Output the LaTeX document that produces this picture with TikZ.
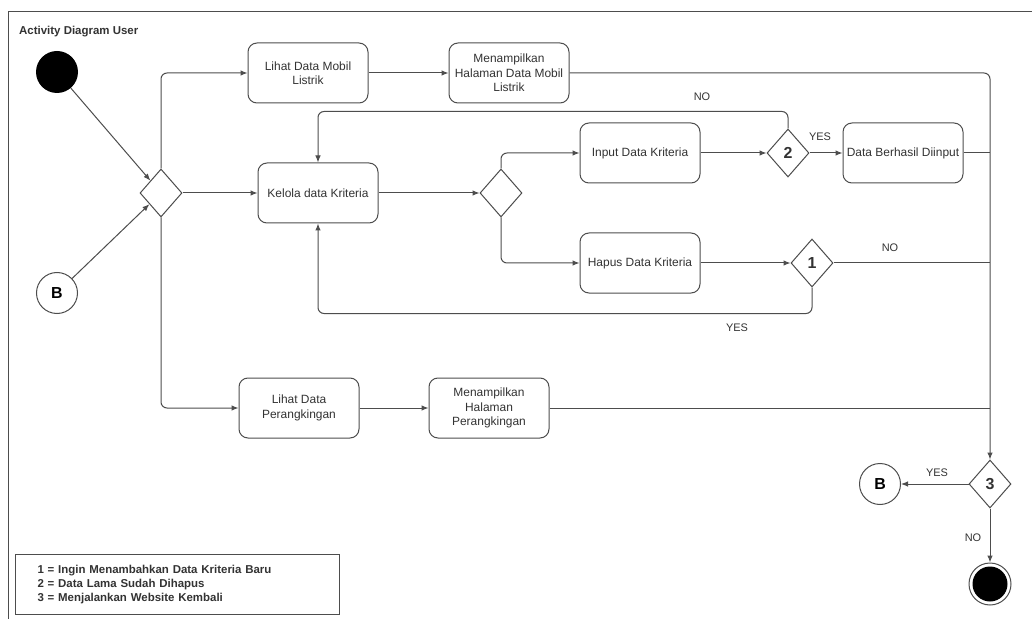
\documentclass[tikz,border=0pt]{standalone}
\usepackage{fontspec}
\setmainfont{Liberation Sans}
\usetikzlibrary{shapes.geometric,arrows.meta}
\definecolor{ink}{HTML}{333333}
\definecolor{edgec}{HTML}{4D4D4D}
\begin{document}
\begin{tikzpicture}[x=1bp,y=-1bp,
  act/.style={draw=edgec, line width=1bp, rounded corners=9bp, minimum width=120bp,
    minimum height=60bp, align=center, text=ink, inner sep=2bp,
    font=\fontsize{12}{14.4}\selectfont},
  dec/.style={diamond, draw=edgec, line width=1bp, fill=white, minimum width=42bp,
    minimum height=48bp, inner sep=0pt, text=ink, font=\bfseries\fontsize{16}{16}\selectfont},
  conn/.style={circle, draw=edgec, line width=1bp, fill=white, minimum size=41bp,
    inner sep=0pt, text=black, font=\bfseries\fontsize{16}{16}\selectfont},
  flow/.style={draw=edgec, line width=1bp, rounded corners=6bp,
    -{Latex[length=7bp,width=5.5bp]}},
  wire/.style={draw=edgec, line width=1bp, rounded corners=6bp},
  lbl/.style={text=ink, inner sep=0pt, font=\fontsize{11}{12}\selectfont}
]
\useasboundingbox (0,0) rectangle (1032,619);
\fill[white] (0,0) rectangle (1032,619);

% outer frame
\draw[edgec, line width=1bp] (8,619) -- (8,12) -- (1032,12);
\node (title) [anchor=west, inner sep=0pt, text=ink, font=\bfseries\fontsize{11.5}{12}\selectfont]
  at (19,32) {Activity Diagram User};

% initial node and connectors
\node (start) [circle, fill=black, minimum size=42bp, inner sep=0pt] at (57,72) {};
\node (bin) [conn] at (57,293) {B};
\node (dsel) [dec] at (161,193) {};

% activities
\node (lihatmobil) [act] at (308,73) {Lihat Data Mobil\\Listrik};
\node (showmobil) [act] at (509,73) {Menampilkan\\Halaman Data Mobil\\Listrik};
\node (kelola) [act] at (318,193) {Kelola data Kriteria};
\node (dk) [dec] at (501,193) {};
\node (input) [act] at (640,153) {Input Data Kriteria};
\node (hapus) [act] at (640,263) {Hapus Data Kriteria};
\node (dq2) [dec] at (788,153) {2};
\node (dbi) [act] at (903,153) {Data Berhasil Diinput};
\node (dq1) [dec] at (812,263) {1};
\node (lihatrank) [act] at (299,408) {Lihat Data\\Perangkingan};
\node (showrank) [act] at (489,408) {Menampilkan\\Halaman\\Perangkingan};
\node (dq3) [dec] at (990,484) {3};
\node (bout) [conn] at (880,484) {B};
\node (finish) [circle, draw=edgec, line width=1bp, minimum size=42bp, inner sep=0pt,
  path picture={\fill[black] (path picture bounding box.center) circle (17.5bp);}] at (990,584) {};

% flows
\draw[flow] (start) -- (dsel);
\draw[flow] (bin) -- (dsel);
\draw[flow] (dsel.north) |- (lihatmobil.west);
\draw[flow] (lihatmobil) -- (showmobil);
\draw[flow] (showmobil.east) -| (dq3.north);
\draw[flow] (dsel.east) -- (kelola.west);
\draw[flow] (kelola) -- (dk);
\draw[flow] (dk.north) |- (input.west);
\draw[flow] (dk.south) |- (hapus.west);
\draw[flow] (input) -- (dq2);
\draw[flow] (dq2) -- (dbi);
\draw[flow] (dq2.north) -- ++(0,-17) -| (kelola.north);
\draw[wire] (dbi.east) -- (dbi.east -| dq3.north);
\draw[flow] (hapus) -- (dq1);
\draw[wire] (dq1.east) -- (dq1.east -| dq3.north);
\draw[flow] (dq1.south) -- ++(0,26) -| (kelola.south);
\draw[flow] (dsel.south) |- (lihatrank.west);
\draw[flow] (lihatrank) -- (showrank);
\draw[wire] (showrank.east) -- (showrank.east -| dq3.north);
\draw[flow] (dq3) -- (bout);
\draw[flow] (dq3) -- (finish);

% guard labels
\node (no2) [lbl] at (702,97) {NO};
\node (yes2) [lbl] at (820,137) {YES};
\node (no1) [lbl] at (890,248) {NO};
\node (yes1) [lbl] at (737,328) {YES};
\node (yes3) [lbl] at (937,473) {YES};
\node (no3) [lbl] at (973,538) {NO};

% legend
\node (legend) [draw=edgec, line width=1bp, anchor=north west, text width=280bp,
  inner xsep=22bp, minimum height=60bp, align=left, text=ink,
  font=\bfseries\fontsize{11.5}{14.2}\selectfont] at (15,554)
  {1 = Ingin Menambahkan Data Kriteria Baru\\
   2 = Data Lama Sudah Dihapus\\
   3 = Menjalankan Website Kembali};
\end{tikzpicture}
\end{document}
